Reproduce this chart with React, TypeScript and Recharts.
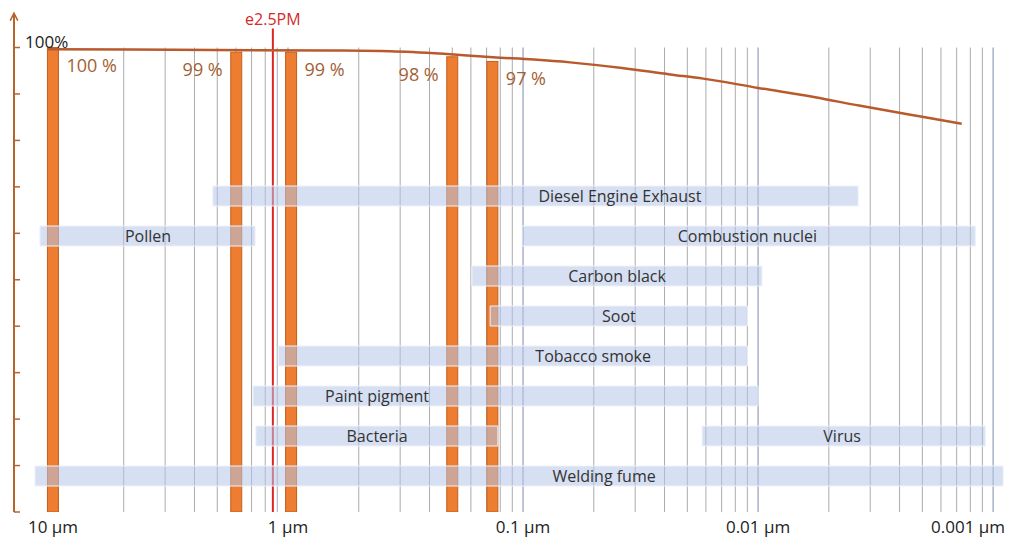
import React from 'react';
import {
  Bar,
  ComposedChart,
  LabelList,
  Line,
  ReferenceArea,
  ReferenceDot,
  ReferenceLine,
  XAxis,
  YAxis,
} from 'recharts';

const FONT = '"Open Sans", "Noto Sans", sans-serif';
const AXIS_BROWN = '#b5642e';
const CURVE_BROWN = '#b95a2c';
const LABEL_BROWN = '#a35f33';
const BAR_ORANGE = '#ed7d31';
const BAND_BLUE = '#b4c7e7';
const GRID_GRAY = '#ababab';
const DECADE_BLUE = '#7f8cab';
const BAR_WIDTH = 11;

// particle size (µm) of each efficiency bar and its filtration efficiency (%)
const barSizes = [10, 1.66, 0.97, 0.2, 0.135];
const barEfficiency = [100, 99, 99, 98, 97];

// efficiency curve
const curveSizes = [
  10.5, 0.66, 0.368, 0.211, 0.134, 0.0898, 0.063, 0.0379, 0.0237, 0.0171, 0.01, 0.00572,
  0.00372, 0.00261, 0.00206, 0.00136,
];
const curveEfficiency = [
  99.6, 99.35, 99.2, 98.6, 97.9, 97.4, 96.8, 95.6, 94.2, 93.3, 91.3, 89.3, 87.5, 86.1, 85.2,
  83.6,
];

const pm25Size = 1.16;

// particle size ranges, one row each (row 0 at the top)
const bandNames = [
  'Diesel Engine Exhaust',
  'Pollen',
  'Combustion nuclei',
  'Carbon black',
  'Soot',
  'Tobacco smoke',
  'Paint pigment',
  'Bacteria',
  'Virus',
  'Welding fume',
];
const bandFrom = [2.09, 11.36, 0.101, 0.165, 0.138, 1.1, 1.41, 1.37, 0.0173, 11.93];
const bandTo = [0.00375, 1.38, 0.00119, 0.00962, 0.0111, 0.0111, 0.01, 0.128, 0.00108, 0.000906];
const bandRows = [0, 1, 1, 2, 3, 4, 5, 6, 6, 7];
const bandLabelAt = [0.0387, 3.94, 0.0111, 0.0398, 0.0391, 0.0503, 0.418, 0.418, 0.00439, 0.0452];

const sizeTicks = [10, 1, 0.1, 0.01, 0.001];
const sizeTickLabels = ['10 µm', '1 µm', '0.1 µm', '0.01 µm', '0.001 µm'];
const gridSizes = [
  10, 5, 3.333, 2.5, 2, 1.667, 1.429, 1.25, 1.111, 1,
  0.5, 0.3333, 0.25, 0.2, 0.1667, 0.1429, 0.125, 0.1111, 0.1,
  0.05, 0.03333, 0.025, 0.02, 0.01667, 0.01429, 0.0125, 0.01111, 0.01,
  0.005, 0.003333, 0.0025, 0.002, 0.001667, 0.001429, 0.00125, 0.001111, 0.001,
];
const pctTicks = [0, 10, 20, 30, 40, 50, 60, 70, 80, 90, 100];

const barData = barSizes.map((size, i) => ({ size, pct: barEfficiency[i] }));
const curveData = curveSizes.map((size, i) => ({ size, pct: curveEfficiency[i] }));

const renderXTick = (props: any) => {
  const { x, y, payload } = props;
  const i = sizeTicks.indexOf(payload.value);
  const label = sizeTickLabels[i] ?? '';
  const last = i === sizeTicks.length - 1;
  return (
    <text
      x={last ? x + 12 : x}
      y={y}
      dy={21}
      textAnchor={last ? 'end' : 'middle'}
      fontSize={17}
      fill="#222"
      fontFamily={FONT}
    >
      {label}
    </text>
  );
};

const renderTopTick = (props: any) => {
  const { x, y, payload } = props;
  if (payload.value !== 100) return <g />;
  return (
    <text x={x} y={y} textAnchor="start" fontSize={17} fill="#222" fontFamily={FONT}>
      100%
    </text>
  );
};

// fixed-width column centred on the bar's own slot
const renderColumn = (props: any) => {
  const { x, y, width, height } = props;
  const cx = x + width / 2;
  return (
    <rect
      x={cx - BAR_WIDTH / 2}
      y={y}
      width={BAR_WIDTH}
      height={height}
      fill={BAR_ORANGE}
      stroke="#c25f1c"
      strokeWidth={1}
    />
  );
};

const renderBarLabel = (props: any) => {
  const { x, y, width, value, index } = props;
  const cx = x + width / 2;
  const onLeft = index % 2 === 1;
  return (
    <text
      x={onLeft ? cx - BAR_WIDTH / 2 - 8 : cx + BAR_WIDTH / 2 + 8}
      y={y + 24}
      textAnchor={onLeft ? 'end' : 'start'}
      fontSize={18}
      fill={LABEL_BROWN}
      fontFamily={FONT}
    >
      {`${value} %`}
    </text>
  );
};

const decadeSet = new Set(sizeTicks);

export default function App() {
  return (
    <div style={{ position: 'relative', width: 1001, height: 533, fontFamily: FONT }}>
      <ComposedChart
        width={1001}
        height={533}
        data={barData}
        margin={{ top: 7, right: 4, bottom: 0, left: 5 }}
      >
        <XAxis
          dataKey="size"
          type="number"
          scale="log"
          domain={[0.00089, 14.65]}
          allowDataOverflow
          reversed
          ticks={sizeTicks}
          tick={renderXTick}
          tickSize={0}
          tickMargin={0}
          axisLine={false}
          tickLine={false}
          height={29}
          interval={0}
        />
        <YAxis
          yAxisId="pct"
          type="number"
          domain={[0, 107]}
          allowDataOverflow
          ticks={pctTicks}
          width={1}
          tick={false}
          tickSize={6}
          tickLine={{ stroke: AXIS_BROWN, strokeWidth: 1.5 }}
          axisLine={{ stroke: AXIS_BROWN, strokeWidth: 2 }}
          interval={0}
        />
        <YAxis
          yAxisId="pctIn"
          type="number"
          mirror
          domain={[0, 107]}
          allowDataOverflow
          ticks={pctTicks}
          tick={renderTopTick}
          tickSize={6}
          tickMargin={5}
          tickLine={{ stroke: AXIS_BROWN, strokeWidth: 1.5 }}
          axisLine={false}
          interval={0}
        />
        <YAxis yAxisId="row" type="number" hide reversed domain={[-4.525, 7.9]} allowDataOverflow />

        {gridSizes.map((s) => (
          <ReferenceLine
            key={`g${s}`}
            yAxisId="pct"
            segment={[
              { x: s, y: 0 },
              { x: s, y: 100 },
            ]}
            stroke={decadeSet.has(s) ? DECADE_BLUE : GRID_GRAY}
            strokeWidth={1}
            zIndex={-10}
          />
        ))}

        <ReferenceLine
          yAxisId="pct"
          segment={[
            { x: pm25Size, y: 0 },
            { x: pm25Size, y: 104.1 },
          ]}
          stroke="#e02424"
          strokeWidth={2}
          label={{ value: 'e2.5PM', position: 'top', offset: 3, fill: '#d42a2a', fontSize: 16, fontFamily: FONT }}
        />

        <Bar
          yAxisId="pct"
          dataKey="pct"
          barSize={BAR_WIDTH}
          fill={BAR_ORANGE}
          shape={renderColumn}
          isAnimationActive={false}
        >
          <LabelList dataKey="pct" content={renderBarLabel} />
        </Bar>

        <Line
          yAxisId="pct"
          data={curveData}
          dataKey="pct"
          type="monotone"
          stroke={CURVE_BROWN}
          strokeWidth={2.5}
          dot={false}
          activeDot={false}
          isAnimationActive={false}
        />

        {bandNames.map((name, i) => (
          <ReferenceArea
            key={`b${name}`}
            yAxisId="row"
            x1={bandFrom[i]}
            x2={bandTo[i]}
            y1={bandRows[i] - 0.25}
            y2={bandRows[i] + 0.25}
            fill={BAND_BLUE}
            fillOpacity={0.55}
            stroke="#eef2fa"
            strokeWidth={1}
            zIndex={450}
          />
        ))}

        {bandNames.map((name, i) => (
          <ReferenceDot
            key={`l${name}`}
            yAxisId="row"
            x={bandLabelAt[i]}
            y={bandRows[i]}
            r={1}
            fill="none"
            stroke="none"
            zIndex={460}
            label={{ value: name, position: 'center', fill: '#333', fontSize: 16, fontFamily: FONT }}
          />
        ))}
      </ComposedChart>

      {/* arrow head on top of the efficiency axis */}
      <svg
        width={20}
        height={20}
        style={{ position: 'absolute', left: 0, top: 0, overflow: 'visible' }}
      >
        <line x1={6} y1={5.5} x2={6} y2={8} stroke={AXIS_BROWN} strokeWidth={2} />
        <path d="M2.2 12.7 L6 5.2 L9.8 12.7" fill="none" stroke={AXIS_BROWN} strokeWidth={1.6} />
      </svg>
    </div>
  );
}
